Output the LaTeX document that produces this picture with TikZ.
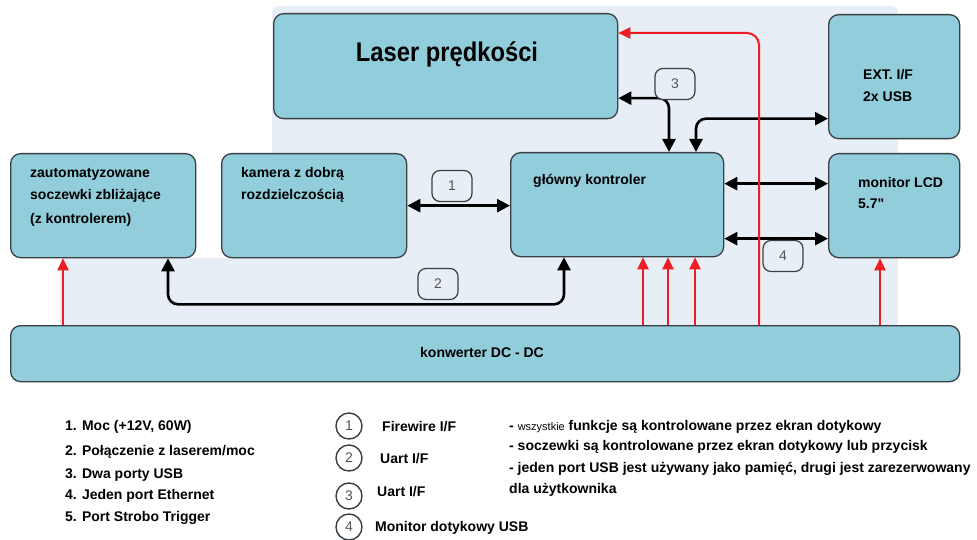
\documentclass[tikz,border=0pt]{standalone}
\usepackage{fontspec}
\usepackage{graphicx}
\setmainfont{Liberation Sans}
\newfontfamily\rawsans{Liberation Sans}[Ligatures=TeXOff]
\usetikzlibrary{arrows.meta,calc}
\definecolor{boxfill}{HTML}{92CDDC}
\definecolor{boxline}{HTML}{3A3F44}
\definecolor{canvasbg}{HTML}{E8EEF6}
\definecolor{pwr}{HTML}{EE1C24}
\definecolor{tagtext}{HTML}{555555}

\begin{document}
\begin{tikzpicture}[x=1pt,y=-1pt,
  box/.style={draw=boxline, line width=1.3pt, fill=boxfill, rounded corners=10pt, inner sep=0pt, anchor=north west},
  txt/.style={anchor=base west, inner sep=0pt, font=\fontsize{14}{16}\selectfont\bfseries},
  sig/.style={line width=2.6pt, {Triangle[length=13pt,width=13pt]}-{Triangle[length=13pt,width=13pt]}, rounded corners=10pt},
  pwrline/.style={draw=pwr, line width=2pt, -{Triangle[length=12pt,width=11pt]}, rounded corners=12pt},
  tag/.style={draw=boxline, line width=1.2pt, fill=canvasbg, rounded corners=8pt, minimum width=40pt, minimum height=31pt, inner sep=0pt, text=tagtext, font=\fontsize{14}{16}\selectfont},
  ring/.style={circle, draw=boxline, line width=1.4pt, minimum size=26pt, inner sep=0pt, text=tagtext, font=\fontsize{14}{16}\selectfont},
  note/.style={anchor=base west, inner sep=0pt, font=\fontsize{14}{16}\selectfont\bfseries}
]
\useasboundingbox (0,0) rectangle (977,540);

% light canvas behind the block diagram
\fill[canvasbg, rounded corners=6pt] (272,6) -- (898,6) -- (898,327) -- (60,327) -- (60,258) -- (272,258) -- cycle;

% blocks
\node[box, minimum width=344pt, minimum height=105pt] (laser) at (273,13) {};
\node[box, minimum width=131pt, minimum height=124pt] (ext) at (828,14) {};
\node[box, minimum width=131pt, minimum height=104pt] (lcd) at (828,153) {};
\node[box, minimum width=213pt, minimum height=104pt] (ctrl) at (510,152) {};
\node[box, minimum width=185pt, minimum height=104pt] (kam) at (221,153) {};
\node[box, minimum width=185pt, minimum height=104pt] (zaut) at (10,153) {};
\node[box, minimum width=949pt, minimum height=56pt] (conv) at (10,325) {};

% block captions
\node[inner sep=0pt, anchor=base, font=\fontsize{27}{30}\selectfont\bfseries] (laserT) at (447,62) {\scalebox{0.88}[1]{Laser prędkości}};
\node[txt] (extT1) at (863,80) {EXT. I/F};
\node[txt] (extT2) at (863,102) {2x USB};
\node[txt] (lcdT1) at (858,188) {monitor LCD};
\node[txt] (lcdT2) at (858,209) {{\rawsans 5.7"}};
\node[txt] (ctrlT) at (533,185) {główny kontroler};
\node[txt] (kamT1) at (241,178) {kamera z dobrą};
\node[txt] (kamT2) at (241,200) {rozdzielczością};
\node[txt] (zautT1) at (30,178) {zautomatyzowane};
\node[txt] (zautT2) at (30,200) {soczewki zbliżające};
\node[txt] (zautT3) at (30,223) {(z kontrolerem)};
\node[txt, anchor=base] (convT) at (482,357) {konwerter DC - DC};

% anchor points of the connectors
\coordinate (c2a) at ([xshift=54pt]ctrl.south west);
\coordinate (c2b) at ([xshift=158pt]zaut.south west);
\coordinate (c3a) at ([yshift=-32pt]laser.east);
\coordinate (c3b) at ([xshift=159pt]ctrl.north west);
\coordinate (c4a) at ([xshift=186pt]ctrl.north west);
\coordinate (c4b) at ([yshift=-42pt]ext.west);
\coordinate (c5) at ([yshift=21pt]ctrl.east);
\coordinate (c6) at ([yshift=-34pt]ctrl.east);

% signal connections
\draw[sig] (kam.east) -- (kam.east -| ctrl.west);
\draw[sig] (c2a) -- ($(c2a)+(0,47)$) -- ($(c2b)+(0,46)$) -- (c2b);
\draw[sig] (c3a) -| (c3b);
\draw[sig] (c4a) |- (c4b);
\draw[sig] (c5) -- (c5 -| lcd.west);
\draw[sig] (c6) -- (c6 -| lcd.west);

% power feeds from the DC-DC converter
\coordinate (p1) at ([xshift=53pt]zaut.south west);
\coordinate (p2) at ([xshift=133pt]ctrl.south west);
\coordinate (p3) at ([xshift=158pt]ctrl.south west);
\coordinate (p4) at ([xshift=185pt]ctrl.south west);
\coordinate (p5) at ([xshift=52pt]lcd.south west);
\coordinate (p6) at (759,0);
\coordinate (pl) at ([yshift=-20pt]laser.north east);
\draw[pwrline] (p1 |- conv.north) -- (p1);
\draw[pwrline] (p2 |- conv.north) -- (p2);
\draw[pwrline] (p3 |- conv.north) -- (p3);
\draw[pwrline] (p4 |- conv.north) -- (p4);
\draw[pwrline] (p5 |- conv.north) -- (p5);
\draw[pwrline] (p6 |- conv.north) |- (pl);

% interface tags on the connections
\node[tag] (t1) at (452,186) {1};
\node[tag] (t2) at (438,284) {2};
\node[tag] (t3) at (675,84) {3};
\node[tag] (t4) at (783,256) {4};

% numbered list
\node[txt] (k1) at (65,430) {1. Moc (+12V, 60W)};
\node[txt] (k2) at (65,455) {2. Połączenie z laserem/moc};
\node[txt] (k3) at (65,478) {3. Dwa porty USB};
\node[txt] (k4) at (65,499) {4. Jeden port Ethernet};
\node[txt] (k5) at (65,521) {5. Port Strobo Trigger};

% interface key
\node[ring] (r1) at (349,426) {1};
\node[ring] (r2) at (349,458) {2};
\node[ring] (r3) at (349,496) {3};
\node[ring] (r4) at (349,527) {4};
\node[txt] (rT1) at (382,431) {Firewire I/F};
\node[txt] (rT2) at (380,463) {Uart I/F};
\node[txt] (rT3) at (377,496) {Uart I/F};
\node[txt] (rT4) at (375,531) {Monitor dotykowy USB};

% remarks
\node[note] (n1) at (509,430) {- {\fontsize{11}{13}\selectfont\mdseries wszystkie} funkcje są kontrolowane przez ekran dotykowy};
\node[note] (n2) at (509,450) {- soczewki są kontrolowane przez ekran dotykowy lub przycisk};
\node[note] (n3) at (509,472) {- jeden port USB jest używany jako pamięć, drugi jest zarezerwowany};
\node[note] (n4) at (509,493) {dla użytkownika};
\end{tikzpicture}
\end{document}
